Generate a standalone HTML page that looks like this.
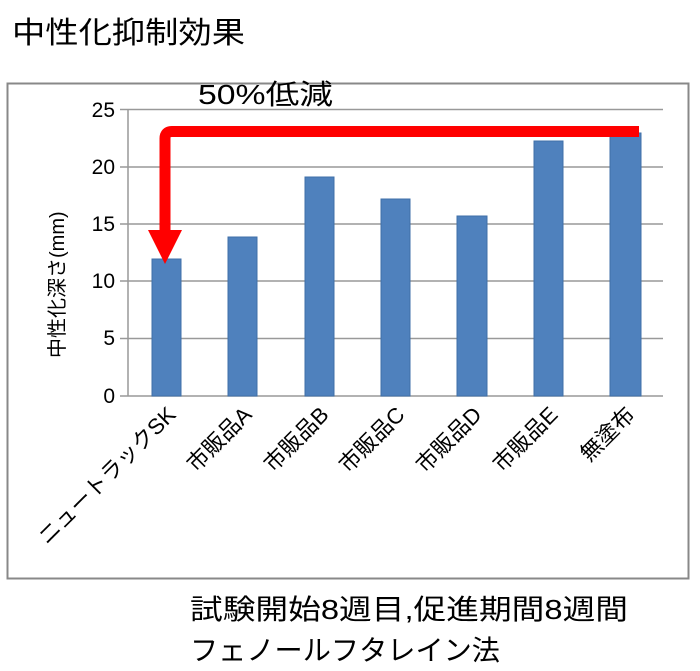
<!DOCTYPE html>
<html><head><meta charset="utf-8"><style>
html,body{margin:0;padding:0;background:#fff;}
svg{display:block;font-family:"Liberation Sans","Noto Sans CJK JP",sans-serif;}
</style></head><body>
<svg width="700" height="671" viewBox="0 0 700 671">
<text x="12" y="43" font-size="30" fill="#000" textLength="233" lengthAdjust="spacingAndGlyphs">中性化抑制効果</text>
<rect x="7.5" y="83.5" width="681" height="495" fill="#fff" stroke="#888" stroke-width="2"/>
<g stroke="#999" stroke-width="1.5">
<line x1="128" y1="109.5" x2="663" y2="109.5"/>
<line x1="128" y1="167" x2="663" y2="167"/>
<line x1="128" y1="224" x2="663" y2="224"/>
<line x1="128" y1="281" x2="663" y2="281"/>
<line x1="128" y1="338.5" x2="663" y2="338.5"/>
<line x1="120" y1="396" x2="663" y2="396"/>
<line x1="128" y1="109" x2="128" y2="396"/>
<line x1="120" y1="109.5" x2="128" y2="109.5"/>
<line x1="120" y1="167" x2="128" y2="167"/>
<line x1="120" y1="224" x2="128" y2="224"/>
<line x1="120" y1="281" x2="128" y2="281"/>
<line x1="120" y1="338.5" x2="128" y2="338.5"/>
</g>
<g font-size="21" text-anchor="end" fill="#000">
<text x="115" y="117">25</text><text x="115" y="174">20</text><text x="115" y="231">15</text>
<text x="115" y="288">10</text><text x="115" y="345">5</text><text x="115" y="403">0</text>
</g>
<g fill="#4f81bd" stroke="#3f6fa8" stroke-width="1">
<rect x="152" y="259" width="29" height="137"/>
<rect x="228" y="237" width="29" height="159"/>
<rect x="305" y="177" width="29" height="219"/>
<rect x="381" y="199" width="29" height="197"/>
<rect x="457" y="216" width="30" height="180"/>
<rect x="534" y="141" width="29" height="255"/>
<rect x="610" y="133" width="31" height="263"/>
</g>
<path d="M639 131.5 H172 Q165 131.5 165 138.5 V232" fill="none" stroke="#ff0000" stroke-width="11"/>
<polygon points="148,230 182,230 165,264" fill="#ff0000"/>
<text x="198" y="104" font-size="28" fill="#000" textLength="135" lengthAdjust="spacingAndGlyphs">50%低減</text>
<text transform="translate(64,358) rotate(-90)" font-size="20" fill="#000">中性化深さ(mm)</text>
<g font-size="22" text-anchor="end" fill="#000">
<text transform="translate(177,416) rotate(-45)">ニュートラックSK</text>
<text transform="translate(253,416) rotate(-45)">市販品A</text>
<text transform="translate(330,416) rotate(-45)">市販品B</text>
<text transform="translate(406,416) rotate(-45)">市販品C</text>
<text transform="translate(483,416) rotate(-45)">市販品D</text>
<text transform="translate(559,416) rotate(-45)">市販品E</text>
<text transform="translate(636,416) rotate(-45)">無塗布</text>
</g>
<text x="190" y="619" font-size="28" fill="#000" textLength="438" lengthAdjust="spacingAndGlyphs">試験開始8週目,促進期間8週間</text>
<text x="190" y="660" font-size="28" fill="#000" textLength="310" lengthAdjust="spacingAndGlyphs">フェノールフタレイン法</text>
</svg>
</body></html>
